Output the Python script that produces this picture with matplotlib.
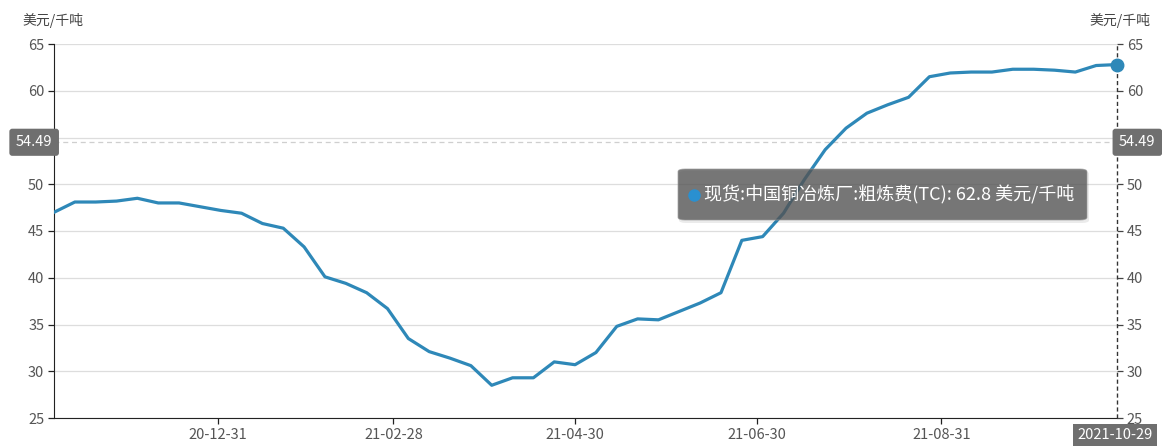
import matplotlib
matplotlib.use('Agg')
import numpy as np
import pandas as pd
import matplotlib.pyplot as plt
import matplotlib.dates as mdates
from matplotlib.patches import FancyBboxPatch
from matplotlib.lines import Line2D
from matplotlib.transforms import blended_transform_factory

plt.rcParams['font.family'] = ['Noto Sans CJK SC', 'DejaVu Sans']

# 中国铜冶炼厂粗炼费(TC)，周度
fechas = pd.date_range('2020-11-06', '2021-10-29', freq='7D')
tc = [47.0, 48.1, 48.1, 48.2, 48.5, 48.0, 48.0, 47.6, 47.2, 46.9,
      45.8, 45.3, 43.3, 40.1, 39.4, 38.4, 36.7, 33.5, 32.1, 31.4,
      30.6, 28.5, 29.3, 29.3, 31.0, 30.7, 32.0, 34.8, 35.6, 35.5,
      36.4, 37.3, 38.4, 44.0, 44.4, 46.9, 50.5, 53.7, 56.0, 57.6,
      58.5, 59.3, 61.5, 61.9, 62.0, 62.0, 62.3, 62.3, 62.2, 62.0,
      62.7, 62.8]
promedio = 54.49
ticks_x = ['2020-12-31', '2021-02-28', '2021-04-30', '2021-06-30', '2021-08-31']
ticks_y = [25, 30, 35, 40, 45, 50, 55, 60, 65]
unidad = '美元/千吨'
serie = '现货:中国铜冶炼厂:粗炼费(TC)'

azul = '#2e88b8'
gris_txt = '#555555'
gris_caja = '#6f6f6f'
fs = 10.5

# la marca 55 queda tapada por la caja del promedio
etiquetas_y = ['' if v == 55 else str(v) for v in ticks_y]

fig = plt.figure(figsize=(11.62, 4.46), dpi=100)
ax = fig.add_axes([54 / 1162, 28 / 446, 1063 / 1162, 374 / 446])

ax.plot(fechas, tc, color=azul, lw=2.3, solid_joinstyle='round', zorder=3)
ax.plot(fechas[-1], tc[-1], 'o', color=azul, ms=9, zorder=4, clip_on=False)

ax.set_xlim(fechas[0], fechas[-1])
ax.set_ylim(25, 65)
ax.set_yticks(ticks_y)
ax.set_yticklabels(etiquetas_y)
ax.grid(axis='y', color='#dddddd', lw=0.9)
ax.set_axisbelow(True)

ax.set_xticks(pd.to_datetime(ticks_x))
ax.xaxis.set_major_formatter(mdates.DateFormatter('%y-%m-%d'))

for lado in ['top', 'right']:
    ax.spines[lado].set_visible(False)
ax.spines['left'].set_color('#222222')
ax.spines['bottom'].set_color('#222222')
ax.tick_params(axis='both', direction='out', length=4, width=0.9,
               colors='#222222', labelcolor=gris_txt, labelsize=fs, pad=3)

# eje derecho con las mismas marcas
ax2 = ax.twinx()
ax2.set_ylim(25, 65)
ax2.set_yticks(ticks_y)
ax2.set_yticklabels(etiquetas_y)
for lado in ['top', 'left', 'bottom', 'right']:
    ax2.spines[lado].set_visible(False)
ax2.tick_params(axis='y', direction='out', length=4, width=0.9,
                colors='#444444', labelcolor=gris_txt, labelsize=fs, pad=3)

# cruz del cursor en el último dato
ax.axvline(fechas[-1], color='#333333', lw=1.0, ls=(0, (3, 2)), zorder=2, clip_on=False)

# línea de promedio
ax.axhline(promedio, color='#cfcfcf', lw=0.9, ls=(0, (4, 3)), zorder=1)
tr = blended_transform_factory(ax.transAxes, ax.transData)
caja = dict(boxstyle='round,pad=0.45,rounding_size=0.2', fc=gris_caja, ec='none')
ax.text(-0.0015, promedio, f'{promedio:.2f}', transform=tr, ha='right', va='center',
        color='white', fontsize=fs, bbox=caja, zorder=6, clip_on=False)
ax2.text(1.002, promedio, f'{promedio:.2f}', transform=tr, ha='left', va='center',
         color='white', fontsize=fs, bbox=caja, zorder=6, clip_on=False)

# etiqueta de fecha del cursor
fig.text(1115 / 1162, 11 / 446, fechas[-1].strftime('%Y-%m-%d'), ha='center', va='center',
         color='white', fontsize=fs, zorder=6,
         bbox=dict(boxstyle='square,pad=0.3', fc=gris_caja, ec='none'))

# unidades
fig.text(22 / 1162, 1 - 20 / 446, unidad, ha='left', va='center', color='#444444', fontsize=10)
fig.text(1150 / 1162, 1 - 20 / 446, unidad, ha='right', va='center', color='#444444', fontsize=10)

# tooltip
sombra = FancyBboxPatch((679 / 1162, 1 - 223 / 446), 410 / 1162, 52 / 446,
                        boxstyle='round,pad=0,rounding_size=0.006', transform=fig.transFigure,
                        fc='#000000', ec='none', alpha=0.08, zorder=9)
tip = FancyBboxPatch((678 / 1162, 1 - 220 / 446), 409 / 1162, 51 / 446,
                     boxstyle='round,pad=0,rounding_size=0.006', transform=fig.transFigure,
                     fc='#555555', ec='#999999', lw=0.6, alpha=0.78, zorder=10)
fig.add_artist(sombra)
fig.add_artist(tip)
fig.add_artist(Line2D([694 / 1162], [1 - 195 / 446], marker='o', ms=8, color='#2a90d0',
                      transform=fig.transFigure, zorder=11))
fig.text(704 / 1162, 1 - 195 / 446, f'{serie}: {tc[-1]} {unidad}', ha='left', va='center',
         color='white', fontsize=13, zorder=11)

fig.savefig('out.png', dpi=100)
